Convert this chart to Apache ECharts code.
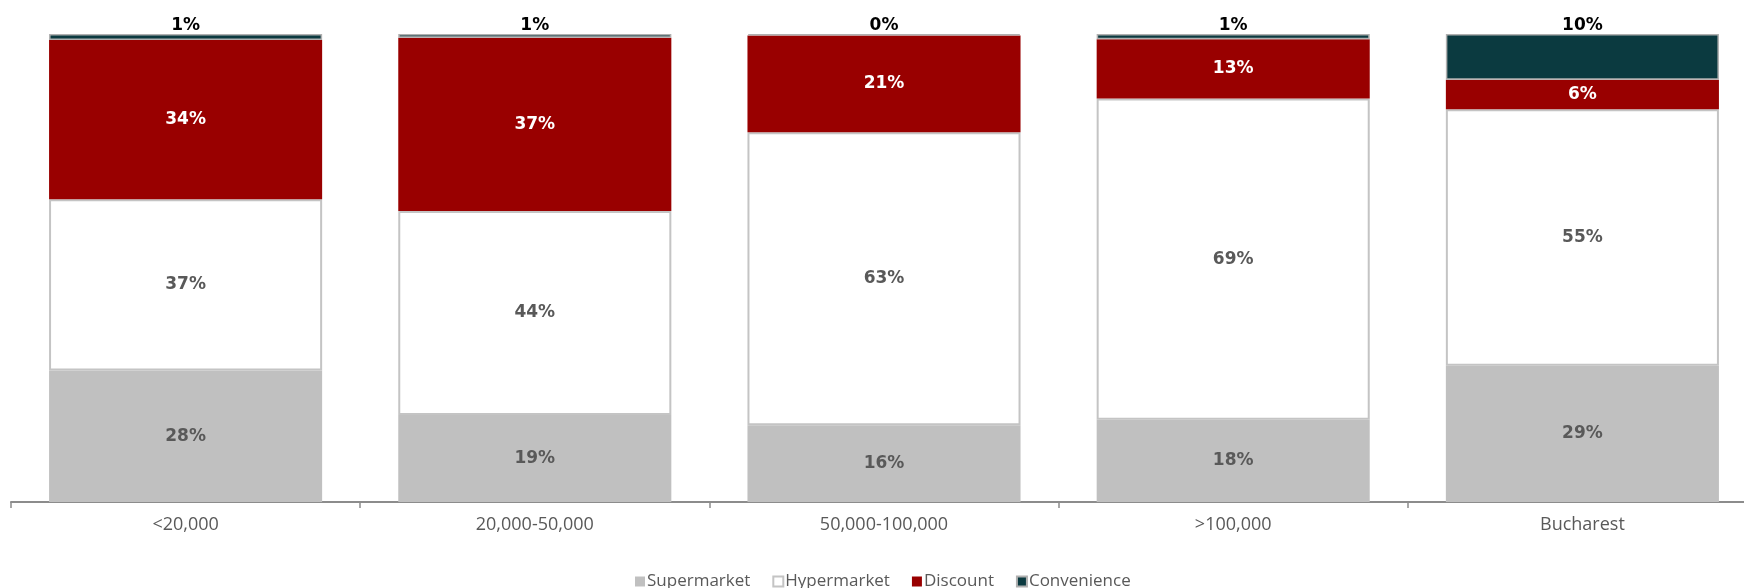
<!DOCTYPE html>
<html>
<head>
<meta charset="utf-8">
<script src="https://cdn.jsdelivr.net/npm/echarts@6/dist/echarts.min.js"></script>
<style>
html,body{margin:0;padding:0;background:#fff;}
#c{width:1744px;height:588px;}
</style>
</head>
<body>
<div id="c"></div>
<script>
const categories = ['<20,000', '20,000-50,000', '50,000-100,000', '>100,000', 'Bucharest'];
const supermarket = [28.1, 18.6, 16.4, 17.6, 29.1];
const hypermarket = [36.6, 43.6, 62.6, 68.6, 54.8];
const discount = [34.0, 37.0, 20.7, 12.7, 6.3];
const convenience = [1.3, 0.8, 0.3, 1.1, 9.8];

const chart = echarts.init(document.getElementById('c'), null, {renderer: 'canvas'});
const lblFont = {fontFamily: 'DejaVu Sans', fontWeight: 'bold', fontSize: 17};
const fmt = p => Math.round(p.value) + '%';

chart.setOption({
  animation: false,
  backgroundColor: '#ffffff',
  grid: {left: 11, top: 34, width: 1746, height: 468, outerBoundsMode: 'none', containLabel: false},
  legend: {
    data: ['Supermarket', 'Hypermarket', 'Discount', 'Convenience'],
    left: 630, top: 568,
    itemWidth: 10, itemHeight: 10, itemGap: 22,
    icon: 'rect',
    textStyle: {fontFamily: 'Open Sans', fontSize: 17, color: '#595959', padding: [0, 0, 0, -3]}
  },
  xAxis: {
    type: 'category',
    data: categories,
    axisLine: {lineStyle: {color: '#8c8c8c', width: 2}},
    axisTick: {show: true, length: 6, lineStyle: {color: '#8c8c8c', width: 1.5}},
    axisLabel: {fontFamily: 'Open Sans', fontSize: 18, color: '#595959', margin: 14}
  },
  yAxis: {type: 'value', min: 0, max: 100, show: false, splitLine: {show: false}},
  series: [
    {name: 'Supermarket', type: 'bar', stack: 's', data: supermarket, barWidth: '78.2%',
     itemStyle: {color: '#C0C0C0'},
     label: Object.assign({show: true, position: 'inside', color: '#595959', formatter: fmt}, lblFont)},
    {name: 'Hypermarket', type: 'bar', stack: 's', data: hypermarket,
     itemStyle: {color: '#ffffff', borderColor: '#C4C4C4', borderWidth: 2},
     label: Object.assign({show: true, position: 'inside', color: '#595959', formatter: fmt}, lblFont)},
    {name: 'Discount', type: 'bar', stack: 's', data: discount,
     itemStyle: {color: '#990000'},
     label: Object.assign({show: true, position: 'inside', color: '#ffffff', formatter: fmt}, lblFont)},
    {name: 'Convenience', type: 'bar', stack: 's', data: convenience,
     itemStyle: {color: '#0B3A40', borderColor: '#B0B0B0', borderWidth: 1.5},
     label: Object.assign({show: true, position: 'top', distance: 0, color: '#000000', formatter: fmt}, lblFont)}
  ]
});
</script>
</body>
</html>
